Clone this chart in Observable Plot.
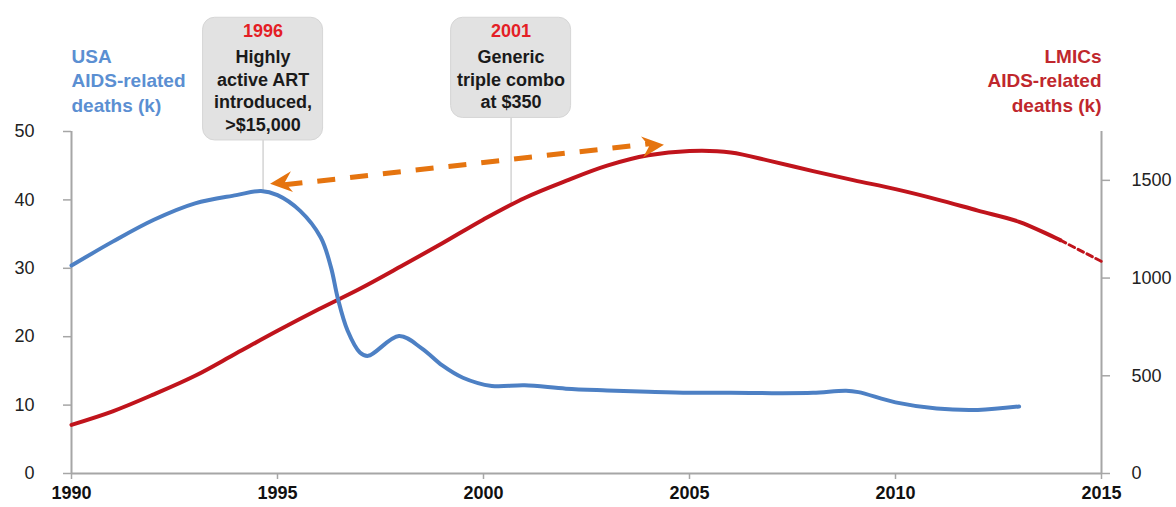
<!DOCTYPE html>
<html>
<head>
<meta charset="utf-8">
<script src="https://cdn.jsdelivr.net/npm/d3@7"></script>
<script src="https://cdn.jsdelivr.net/npm/@observablehq/plot@0.6"></script>
<style>
  html, body { margin: 0; padding: 0; background: #fff; }
  svg { display: block; }
</style>
</head>
<body>
<script>
// ---------- data ----------
const usaYears  = [1990, 1991, 1992, 1993, 1994, 1994.6, 1995, 1995.55, 1996.05, 1996.3, 1996.46, 1996.7, 1997, 1997.2, 1997.95, 1998.5, 1999, 1999.5, 2000.2, 2001, 2002, 2003, 2004, 2005, 2006, 2007, 2008, 2008.8, 2009.1, 2010, 2011, 2012, 2013];
const usaDeaths = [30.4, 33.9, 37.1, 39.5, 40.7, 41.3, 40.7, 38.4, 34.5, 30.1, 25.7, 20.9, 17.7, 17.2, 20.1, 18.3, 15.8, 14.0, 12.8, 12.9, 12.4, 12.15, 11.95, 11.8, 11.8, 11.75, 11.8, 12.1, 11.9, 10.4, 9.5, 9.3, 9.8];

const lmicYears  = [1990, 1991, 1992, 1993, 1994, 1995, 1996, 1997, 1998, 1999, 2000, 2001, 2002, 2003, 2004, 2005, 2006, 2007, 2008, 2009, 2010, 2011, 2012, 2013, 2014];
const lmicDeaths = [249, 318, 405, 500, 615, 730, 840, 945, 1060, 1178, 1300, 1410, 1497, 1575, 1628, 1650, 1643, 1597, 1547, 1500, 1455, 1403, 1345, 1288, 1194];
const lmicProjYears  = [2014, 2015];
const lmicProjDeaths = [1194, 1085];

const xTicks     = [1990, 1995, 2000, 2005, 2010, 2015];
const leftTicks  = [0, 10, 20, 30, 40, 50];
const rightTicks = [0, 500, 1000, 1500];
const leftMax = 50, rightMax = 1750;

const leftTitle  = "USA\nAIDS-related\ndeaths (k)";
const rightTitle = "LMICs\nAIDS-related\ndeaths (k)";

const annotX      = [1994.65, 2000.67];
const annotYear   = ["1996", "2001"];
const annotBody   = ["Highly\nactive ART\nintroduced,\n>$15,000", "Generic\ntriple combo\nat $350"];
const annotTarget = [41.3, 1382];       // connector end on the curve
const annotSeries = ["usa", "lmic"];

const arrowFrom = {x: 1994.82, y: 42.35};
const arrowTo   = {x: 2004.38, y: 48.05};

// ---------- derived tables ----------
const k = leftMax / rightMax; // right-axis units -> left-axis units
const usa  = usaYears.map((x, i) => ({x, y: usaDeaths[i]}));
const lmic = lmicYears.map((x, i) => ({x, y: lmicDeaths[i] * k}));
const lmicProj = lmicProjYears.map((x, i) => ({x, y: lmicProjDeaths[i] * k}));
const annots = annotX.map((x, i) => ({
  x, year: annotYear[i], body: annotBody[i],
  target: annotSeries[i] === "usa" ? annotTarget[i] : annotTarget[i] * k
}));

const BLUE = "#4d80c4", RED = "#c0141c", ORANGE = "#e5740f", AXIS = "#a6a6a6";
const FONT = "'Liberation Sans', Arial, Helvetica, sans-serif";

// arrowhead symbol with its tip at the origin, pointing right
const stealth = {
  draw(ctx, size) {
    const s = Math.sqrt(size / Math.PI);
    ctx.moveTo(0, 0);
    ctx.lineTo(-2 * s, -0.95 * s);
    ctx.lineTo(-1.35 * s, 0);
    ctx.lineTo(-2 * s, 0.95 * s);
    ctx.closePath();
  }
};

const plot = Plot.plot({
  width: 1176,
  height: 507,
  marginLeft: 71,
  marginRight: 75,
  marginTop: 131,
  marginBottom: 34,
  style: {fontFamily: FONT, fontSize: "18px", color: "#222", background: "#fff", overflow: "visible"},
  x: {domain: [1990, 2015]},
  y: {domain: [0, leftMax]},
  marks: [
    // axis lines
    Plot.ruleX([1990, 2015], {stroke: AXIS, strokeWidth: 2}),
    Plot.ruleY([0], {stroke: AXIS, strokeWidth: 2}),
    // axes
    Plot.axisX(xTicks, {anchor: "bottom", tickSize: 6, tickPadding: 7, stroke: AXIS, strokeWidth: 1.5,
      fontWeight: "bold", fontSize: 18, fill: "#111", tickFormat: d => String(d), label: null}),
    Plot.axisY(leftTicks, {anchor: "left", tickSize: 8, tickPadding: 29, stroke: AXIS, strokeWidth: 1.5,
      fontSize: 18, fill: "#222", label: null}),
    Plot.axisY(rightTicks.map(v => v * k), {anchor: "right", tickSize: 8, tickPadding: 22, stroke: AXIS, strokeWidth: 1.5,
      fontSize: 18, fill: "#222", tickFormat: d => String(Math.round(d / k)), label: null}),
    // connectors from annotation boxes
    Plot.ruleX(annots, {x: "x", y1: "target", y2: leftMax * 1.2, stroke: "#d4d4d4", strokeWidth: 1.5, clip: false}),
    // series
    Plot.line(lmic, {x: "x", y: "y", stroke: RED, strokeWidth: 4, curve: "catmull-rom"}),
    Plot.line(lmicProj, {x: "x", y: "y", stroke: RED, strokeWidth: 3, strokeDasharray: "6,4"}),
    Plot.line(usa, {x: "x", y: "y", stroke: BLUE, strokeWidth: 4, curve: "catmull-rom"}),
    // double-headed dashed arrow
    Plot.link([{}], {x1: arrowFrom.x + 0.35, y1: arrowFrom.y - 0.15, x2: arrowTo.x - 0.35, y2: arrowTo.y + 0.15,
      stroke: ORANGE, strokeWidth: 5, strokeDasharray: "18,15"}),
    Plot.dot([arrowTo], {x: "x", y: "y", symbol: stealth, r: 11, fill: ORANGE, stroke: "none", rotate: -5.7}),
    Plot.dot([arrowFrom], {x: "x", y: "y", symbol: stealth, r: 11, fill: ORANGE, stroke: "none", rotate: 174.3}),
    // axis titles
    Plot.text([leftTitle], {frameAnchor: "top-left", text: d => d, textAnchor: "start", lineAnchor: "middle",
      lineHeight: 1.28, dy: -52, fill: "#5b8fd2", fontWeight: "bold", fontSize: 19}),
    Plot.text([rightTitle], {frameAnchor: "top-right", text: d => d, textAnchor: "end", lineAnchor: "middle",
      lineHeight: 1.28, dy: -52, fill: "#c0272d", fontWeight: "bold", fontSize: 19}),
    // annotation texts
    Plot.text(annots, {x: "x", frameAnchor: "top", text: "year", lineAnchor: "middle", dy: -100,
      fill: "#e41e26", fontWeight: "bold", fontSize: 18}),
    Plot.text(annots, {x: "x", frameAnchor: "top", text: "body", lineAnchor: "top", dy: -84, lineHeight: 1.25,
      fill: "#1a1a1a", fontWeight: "bold", fontSize: 18})
  ]
});

document.body.append(plot);

// ---------- rounded boxes behind annotation texts ----------
(function addBoxes() {
  const svg = plot;
  const groups = svg.querySelectorAll('g[aria-label="text"]');
  if (groups.length < 2) return;
  const yearG = groups[groups.length - 2];
  const bodyG = groups[groups.length - 1];
  const svgRect = svg.getBoundingClientRect();
  const yTexts = yearG.querySelectorAll("text");
  const bTexts = bodyG.querySelectorAll("text");
  const ns = "http://www.w3.org/2000/svg";
  const g = document.createElementNS(ns, "g");
  g.setAttribute("aria-label", "annot-box");
  const xs = plot.scale("x");
  annots.forEach((a, i) => {
    const r1 = yTexts[i].getBoundingClientRect();
    const r2 = bTexts[i].getBoundingClientRect();
    const top = Math.min(r1.top, r2.top) - svgRect.top;
    const bottom = Math.max(r1.bottom, r2.bottom) - svgRect.top;
    const cx = xs.apply(a.x);
    const w = 120;
    const rect = document.createElementNS(ns, "rect");
    rect.setAttribute("x", cx - w / 2);
    rect.setAttribute("y", top - 4);
    rect.setAttribute("width", w);
    rect.setAttribute("height", bottom - top + 9);
    rect.setAttribute("rx", 12);
    rect.setAttribute("ry", 12);
    rect.setAttribute("fill", "#e2e2e2");
    rect.setAttribute("stroke", "#d6d6d6");
    rect.setAttribute("stroke-width", "1");
    g.appendChild(rect);
  });
  yearG.parentNode.insertBefore(g, yearG);
})();
</script>
</body>
</html>
